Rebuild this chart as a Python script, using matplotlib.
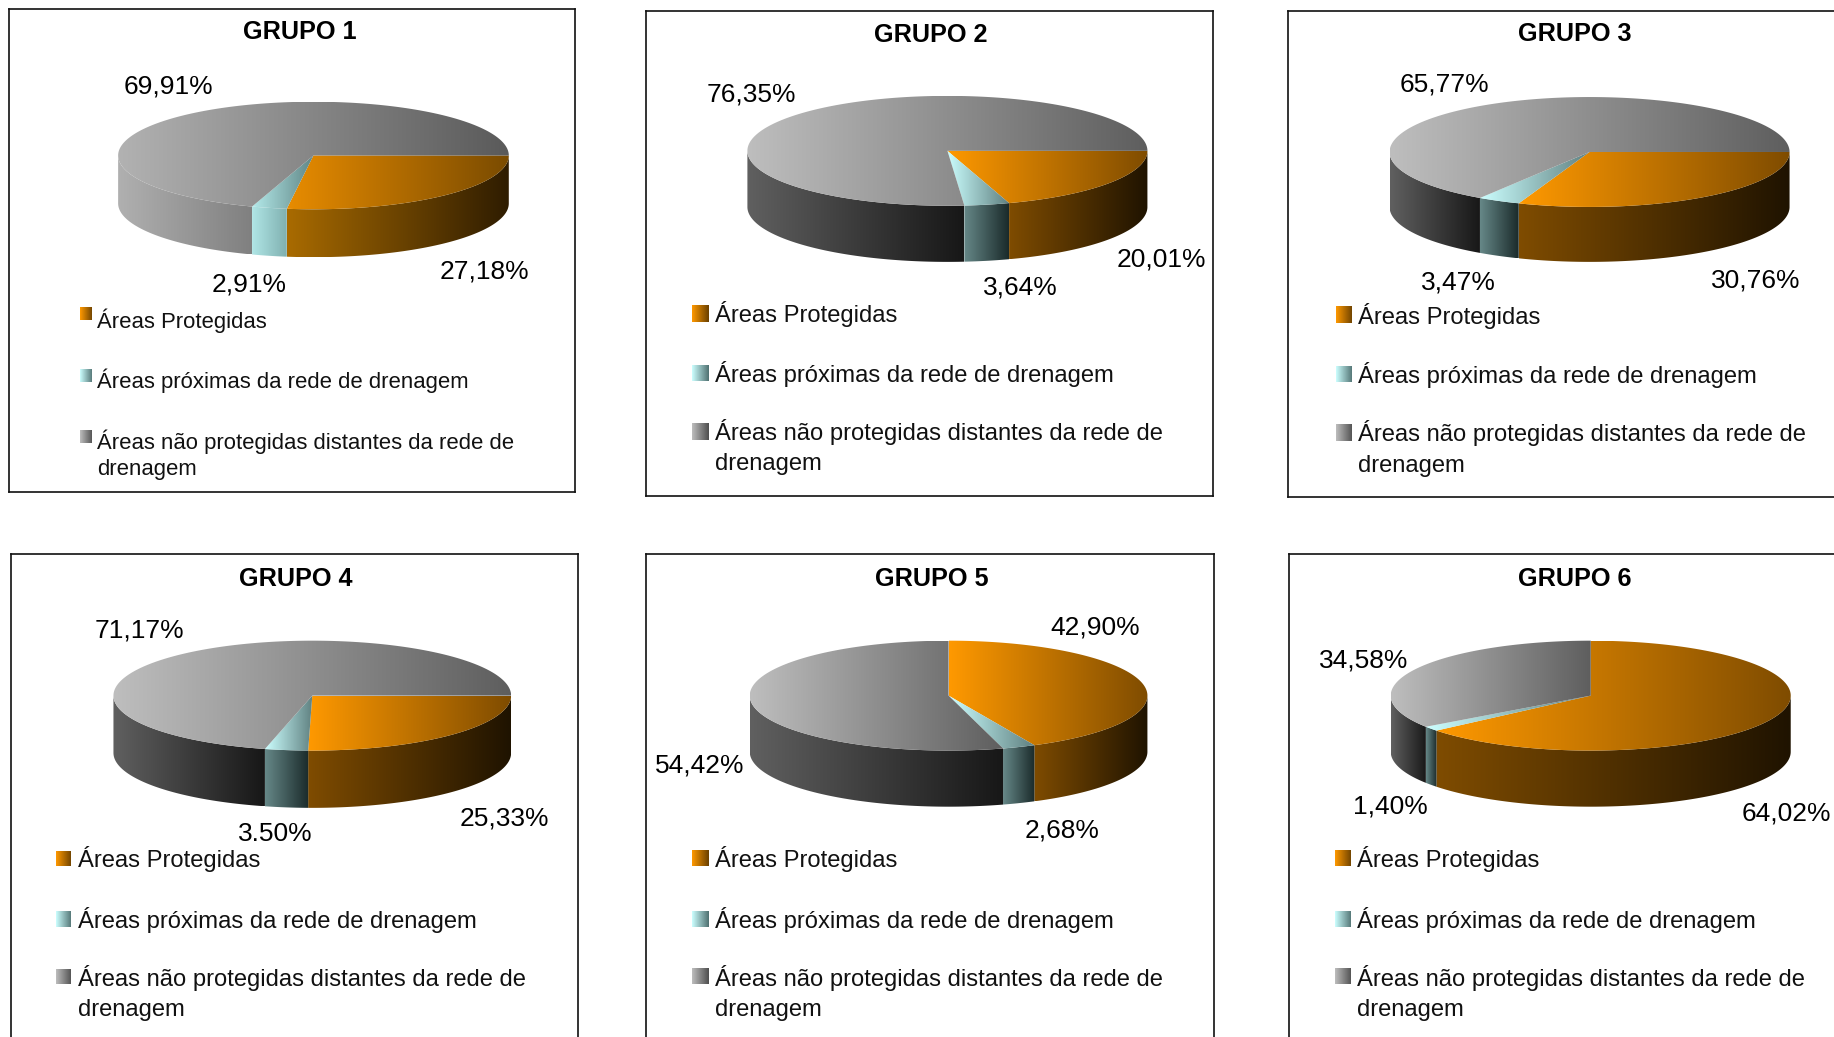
import numpy as np
import matplotlib
matplotlib.use("Agg")
import matplotlib.pyplot as plt
from matplotlib.path import Path
from matplotlib.patches import PathPatch
from matplotlib.colors import to_rgb

plt.rcParams['font.family'] = ['Liberation Sans', 'DejaVu Sans']

# ---------- data ----------
grupos = ["GRUPO 1", "GRUPO 2", "GRUPO 3", "GRUPO 4", "GRUPO 5", "GRUPO 6"]
protegidas = [27.18, 20.01, 30.76, 25.33, 42.90, 64.02]
proximas = [2.91, 3.64, 3.47, 3.50, 2.68, 1.40]
nao_protegidas = [69.91, 76.35, 65.77, 71.17, 54.42, 34.58]
rotulos_protegidas = ["27,18%", "20,01%", "30,76%", "25,33%", "42,90%", "64,02%"]
rotulos_proximas = ["2,91%", "3,64%", "3,47%", "3.50%", "2,68%", "1,40%"]
rotulos_nao = ["69,91%", "76,35%", "65,77%", "71,17%", "54,42%", "34,58%"]
legenda = ["Áreas Protegidas", "Áreas próximas da rede de drenagem",
           "Áreas não protegidas distantes da rede de\ndrenagem"]

# ---------- layout (units: pixels of a 1568-wide view) ----------
W, H = 1568.0, 887.0
boxes = [(8, 8, 492, 421), (552, 9, 1037, 424), (1101, 9, 1568, 425),
         (9, 474, 494, 887), (552, 474, 1038, 887), (1102, 474, 1568, 887)]
pies = [(268, 133, 167, 46, 41), (810, 129, 171, 47, 48), (1359, 130, 171, 47, 47),
        (267, 595, 170, 47, 49), (811, 595, 170, 47, 48), (1360, 595, 171, 47, 48)]
starts = [0, 0, 0, 0, -90, -90]
title_pos = [(256, 27), (796, 30), (1346, 29), (253, 495), (797, 495), (1346, 495)]
pos_prot = [(414, 232), (993, 222), (1501, 240), (431, 700), (936, 537), (1527, 696)]
pos_prox = [(213, 243), (872, 246), (1247, 242), (235, 713), (908, 710), (1189, 690)]
pos_nao = [(144, 74), (642, 81), (1235, 72), (119, 539), (598, 655), (1166, 565)]
leg_x = [68, 592, 1142, 48, 592, 1141]
leg_tx = [83, 611, 1161, 67, 611, 1160]
leg_y = [(274, 326, 378), (269, 320, 369), (270, 321, 370),
         (735, 787, 836), (735, 787, 836), (735, 787, 836)]
leg_sy = [(268, 321, 373), (268, 319, 369), (269, 320, 370),
          (734, 786, 835), (734, 786, 835), (734, 786, 835)]
leg_fs = [15.9, 17.1, 17.1, 17.1, 17.1, 17.1]
leg_sw = [11, 14, 14, 13, 14, 14]
leg_ls = [1.33, 1.52, 1.52, 1.52, 1.52, 1.52]

top_col = [("#ff9900", "#7f4c00"), ("#ccffff", "#5f8080"), ("#bebebe", "#5e5e5e")]
side_col = [("#7f4c00", "#1f1300"), ("#668888", "#1a2a2a"), ("#606060", "#171717")]
g1_top_col = [("#e88c00", "#7a4b00"), ("#b4eaea", "#5f8585"), ("#b2b2b2", "#5a5a5a")]
g1_side_col = [("#a96b00", "#2e1c00"), ("#b0e6e6", "#80b0b0"), ("#b0b0b0", "#808080")]
leg_col = [("#ff9900", "#6a4000"), ("#ccffff", "#4f7070"), ("#bebebe", "#4e4e4e")]

fig = plt.figure(figsize=(18.34, 10.37), dpi=100, facecolor="white")


def gradient(ax, path, c0, c1):
    x0, x1 = path.vertices[:, 0].min(), path.vertices[:, 0].max()
    y0, y1 = path.vertices[:, 1].min(), path.vertices[:, 1].max()
    t = np.linspace(0, 1, 256)[None, :, None]
    img = (1 - t) * np.array(to_rgb(c0)) + t * np.array(to_rgb(c1))
    im = ax.imshow(img, extent=(x0, x1, y1, y0), aspect="auto",
                   interpolation="bilinear", zorder=2)
    patch = PathPatch(path, transform=ax.transData, fc="none", ec="none")
    ax.add_patch(patch)
    im.set_clip_path(patch)


def arc(cx, cy, rx, ry, a, b, n=200):
    th = np.radians(np.linspace(a, b, n))
    return np.column_stack([cx + rx * np.cos(th), cy + ry * np.sin(th)])


for i, (x0, y0, x1, y1) in enumerate(boxes):
    ax = fig.add_axes([x0 / W, 1 - y1 / H, (x1 - x0) / W, (y1 - y0) / H])
    ax.set_facecolor("white")
    ax.set_xticks([])
    ax.set_yticks([])
    for s in ax.spines.values():
        s.set_color("#111111")
        s.set_linewidth(1.2)
    if x1 >= W:
        ax.spines["right"].set_visible(False)
    if y1 >= H:
        ax.spines["bottom"].set_visible(False)

    cx, cy, rx, ry, d = pies[i]
    vals = [protegidas[i], proximas[i], nao_protegidas[i]]
    tc = g1_top_col if i == 0 else top_col
    sc = g1_side_col if i == 0 else side_col

    ang = starts[i]
    spans = []
    for v in vals:
        spans.append((ang, ang + v * 3.6))
        ang += v * 3.6

    # side walls first: only the part of the rim facing the viewer
    for (a, b), (c0, c1) in zip(spans, sc):
        a2, b2 = max(a, 0), min(b, 180)
        if b2 <= a2:
            continue
        front = arc(cx, cy, rx, ry, a2, b2)
        back = arc(cx, cy + d, rx, ry, b2, a2)
        gradient(ax, Path(np.vstack([front, back, front[:1]]), closed=True), c0, c1)

    # top faces
    for (a, b), (c0, c1) in zip(spans, tc):
        rim = arc(cx, cy, rx, ry, a, b, 400)
        gradient(ax, Path(np.vstack([[cx, cy], rim, [cx, cy]]), closed=True), c0, c1)

    ax.text(*title_pos[i], grupos[i], ha="center", va="center",
            fontsize=18.2, fontweight="bold", color="black", zorder=5)
    for pos, lab in ((pos_prot[i], rotulos_protegidas[i]),
                     (pos_prox[i], rotulos_proximas[i]),
                     (pos_nao[i], rotulos_nao[i])):
        ax.text(*pos, lab, ha="center", va="center", fontsize=19,
                color="black", zorder=5, clip_on=False)

    # legend
    sw = leg_sw[i]
    for k, txt in enumerate(legenda):
        y, sy, lx = leg_y[i][k], leg_sy[i][k], leg_x[i]
        sq = Path([(lx, sy - sw / 2), (lx + sw, sy - sw / 2), (lx + sw, sy + sw / 2),
                   (lx, sy + sw / 2), (lx, sy - sw / 2)], closed=True)
        gradient(ax, sq, *leg_col[k])
        if "\n" in txt:
            ax.text(leg_tx[i], y - 11, txt, ha="left", va="top", fontsize=leg_fs[i],
                    color="#111111", linespacing=leg_ls[i], zorder=5)
        else:
            ax.text(leg_tx[i], y, txt, ha="left", va="center", fontsize=leg_fs[i],
                    color="#111111", zorder=5)

    ax.set_xlim(x0, x1)
    ax.set_ylim(y1, y0)

fig.savefig("out.png", dpi=100, facecolor="white")
